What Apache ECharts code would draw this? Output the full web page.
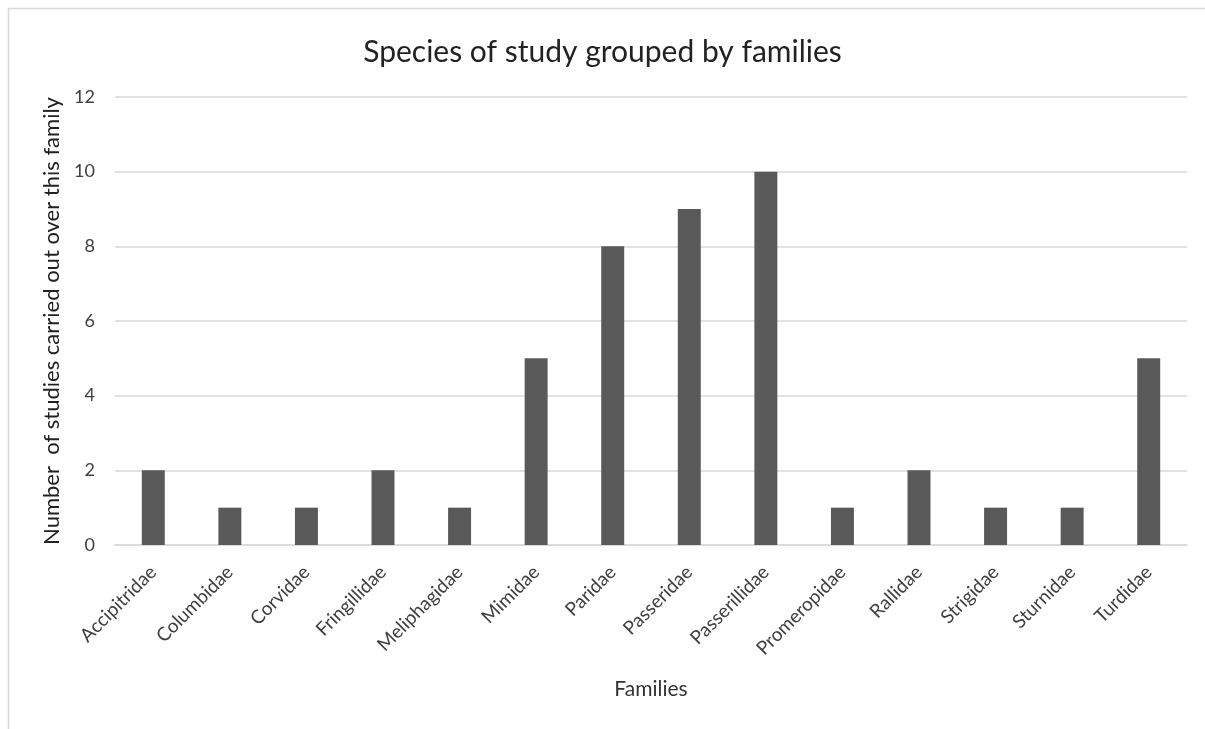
<!DOCTYPE html>
<html>
<head>
<meta charset="utf-8">
<script src="https://cdn.jsdelivr.net/npm/echarts@6/dist/echarts.min.js"></script>
<style>
  html, body { margin: 0; padding: 0; background: #fff; }
  #chart { width: 1205px; height: 729px; }
</style>
</head>
<body>
<div id="chart"></div>
<script>
// Bird families and number of studies per family
const families = ['Accipitridae', 'Columbidae', 'Corvidae', 'Fringillidae', 'Meliphagidae', 'Mimidae',
  'Paridae', 'Passeridae', 'Passerillidae', 'Promeropidae', 'Rallidae', 'Strigidae', 'Sturnidae', 'Turdidae'];
const studyCounts = [2, 1, 1, 2, 1, 5, 8, 9, 10, 1, 2, 1, 1, 5];

const font = 'Lato, "Open Sans", sans-serif';
const chart = echarts.init(document.getElementById('chart'), null, { renderer: 'canvas' });

chart.setOption({
  animation: false,
  backgroundColor: '#ffffff',
  graphic: [{
    type: 'rect',
    shape: { x: 8.5, y: 8.5, width: 1400, height: 900 },
    style: { fill: 'none', stroke: '#d9d9d9', lineWidth: 1.5 },
    silent: true
  }],
  title: {
    text: 'Species of study grouped by families',
    left: 'center',
    top: 32,
    textStyle: { fontFamily: font, fontSize: 30, fontWeight: 'normal', color: '#222' }
  },
  grid: { left: 115, right: 18, top: 97, bottom: 184, containLabel: false },
  xAxis: {
    type: 'category',
    data: families,
    name: 'Families',
    nameLocation: 'middle',
    nameGap: 134,
    nameTextStyle: { fontFamily: font, fontSize: 21, color: '#333' },
    axisLine: { show: true, lineStyle: { color: '#d9d9d9', width: 1.5 } },
    axisTick: { show: false },
    axisLabel: {
      interval: 0,
      rotate: 45,
      margin: 24,
      fontFamily: font,
      fontSize: 19,
      color: '#404040'
    }
  },
  yAxis: {
    type: 'value',
    min: 0,
    max: 12,
    interval: 2,
    name: 'Number  of studies carried out over this family',
    nameLocation: 'middle',
    nameGap: 50,
    nameTextStyle: { fontFamily: font, fontSize: 22, color: '#222' },
    axisLine: { show: false },
    axisTick: { show: false },
    axisLabel: { margin: 20, fontFamily: font, fontSize: 18, color: '#404040' },
    splitLine: { lineStyle: { color: '#d9d9d9', width: 1.5 } }
  },
  series: [{
    type: 'bar',
    data: studyCounts,
    barWidth: '30%',
    itemStyle: { color: '#595959' }
  }]
});
</script>
</body>
</html>
